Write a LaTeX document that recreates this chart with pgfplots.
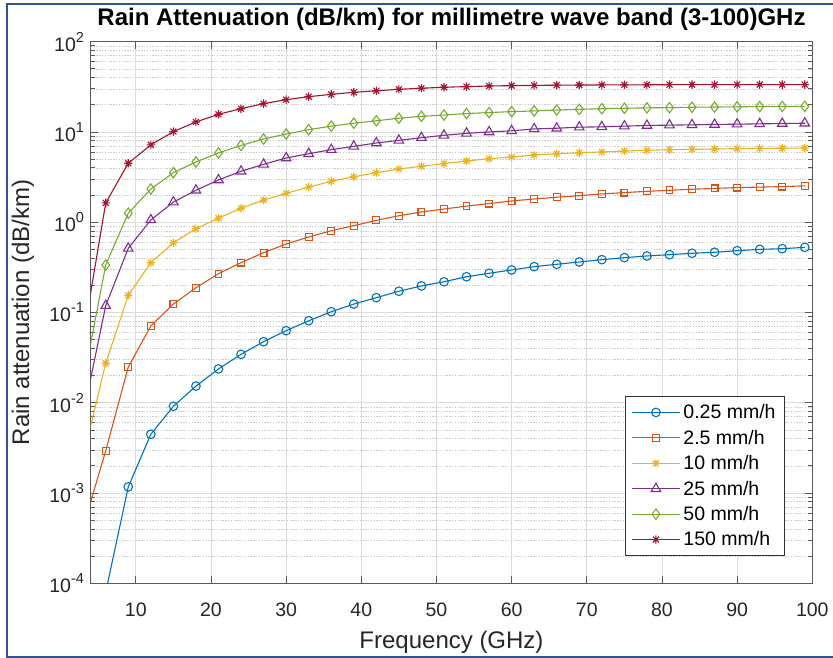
\documentclass[border=0pt]{standalone}
\usepackage{pgfplots}
\usepackage{pgfplotstable}
\pgfplotsset{compat=1.18}
\usepackage{fontspec}
\setmainfont{Liberation Sans}
\definecolor{c1}{RGB}{0,114,189}
\definecolor{c2}{RGB}{217,83,25}
\definecolor{c3}{RGB}{237,177,32}
\definecolor{c4}{RGB}{126,47,142}
\definecolor{c5}{RGB}{119,172,48}
\definecolor{c6}{RGB}{162,20,47}
\definecolor{frameblue}{RGB}{47,84,150}
\pgfdeclareplotmark{mstar}{%
  \pgfpathmoveto{\pgfqpoint{0pt}{\pgfplotmarksize}}\pgfpathlineto{\pgfqpoint{0pt}{-\pgfplotmarksize}}%
  \pgfpathmoveto{\pgfqpoint{\pgfplotmarksize}{0pt}}\pgfpathlineto{\pgfqpoint{-\pgfplotmarksize}{0pt}}%
  \pgfpathmoveto{\pgfqpoint{.7071\pgfplotmarksize}{.7071\pgfplotmarksize}}\pgfpathlineto{\pgfqpoint{-.7071\pgfplotmarksize}{-.7071\pgfplotmarksize}}%
  \pgfpathmoveto{\pgfqpoint{-.7071\pgfplotmarksize}{.7071\pgfplotmarksize}}\pgfpathlineto{\pgfqpoint{.7071\pgfplotmarksize}{-.7071\pgfplotmarksize}}%
  \pgfusepathqstroke}
\newcommand{\tp}[1]{10\raisebox{9pt}{\fontsize{14.5}{15}\selectfont #1}}
\pgfplotstableread{
f    a        b        c       d       e       g
3    3e-6     0.00042  0.0025  0.0074  0.0168  0.053
6    8e-5     0.00294  0.0274  0.119   0.336   1.64
9    0.00117  0.0249   0.155   0.514   1.26    4.5
12   0.00448  0.071    0.356   1.06    2.33    7.2
15   0.00914  0.124    0.593   1.67    3.54    10.1
18   0.0153   0.188    0.848   2.26    4.65    12.9
21   0.0237   0.269    1.11    2.94    5.85    15.7
24   0.0344   0.357    1.43    3.67    7.1     18.1
27   0.0475   0.46     1.76    4.38    8.35    20.6
30   0.0629   0.574    2.09    5.15    9.5     22.8
33   0.081    0.686    2.45    5.74    10.6    24.6
36   0.102    0.805    2.84    6.37    11.6    26.1
39   0.124    0.916    3.19    6.93    12.5    27.5
42   0.146    1.05     3.54    7.55    13.3    28.6
45   0.172    1.18     3.89    8.07    14.2    29.7
48   0.197    1.30     4.17    8.64    14.9    30.5
51   0.219    1.40     4.46    9.18    15.4    31.3
54   0.249    1.51     4.77    9.66    16.0    31.8
57   0.272    1.61     5.06    10.0    16.4    32.3
60   0.296    1.72     5.28    10.3    16.8    32.6
63   0.322    1.81     5.56    10.8    17.1    32.8
66   0.342    1.89     5.74    11.0    17.5    33.0
69   0.363    1.97     5.89    11.3    17.8    33.1
72   0.385    2.06     6.00    11.4    18.1    33.2
75   0.405    2.13     6.15    11.6    18.3    33.3
78   0.423    2.20     6.26    11.8    18.5    33.3
81   0.437    2.26     6.37    11.9    18.6    33.4
84   0.453    2.32     6.42    12.0    18.8    33.4
87   0.465    2.37     6.47    12.1    18.9    33.4
90   0.484    2.42     6.53    12.2    19.0    33.5
93   0.501    2.45     6.58    12.3    19.1    33.5
96   0.509    2.48     6.60    12.4    19.2    33.5
99   0.527    2.53     6.64    12.5    19.2    33.5
}\rain
\begin{document}
\begin{tikzpicture}
\useasboundingbox (0,0) rectangle (833pt,658pt);
\fill[white] (0,0) rectangle (833pt,658pt);
\draw[frameblue, line width=2pt] (900pt,654pt) -- (7.3pt,654pt) -- (7.3pt,0.8pt) -- (900pt,0.8pt);
\begin{axis}[
  at={(90.7pt,74.7pt)}, anchor=south west,
  scale only axis, width=721.6pt, height=541.6pt,
  xmin=4, xmax=100, ymode=log, ymin=1e-4, ymax=1e2,
  xtick={10,20,...,100},
  ytick={1e-4,1e-3,1e-2,1e-1,1,10,100},
  yticklabels={\tp{-4},\tp{-3},\tp{-2},\tp{-1},\tp{0},\tp{1},\tp{2}},
  /pgf/number format/assume math mode=true,
  tick label style={font=\fontsize{19.5}{23}\selectfont, text=black!85},
  xticklabel style={anchor=base, yshift=-32.7pt},
  yticklabel style={anchor=east, xshift=-3.2pt},
  xmajorgrids, ymajorgrids, yminorgrids,
  major grid style={black!14, line width=0.7pt},
  minor grid style={black!20, line width=0.6pt, dash pattern=on 1.4pt off 1.4pt},
  axis line style={black!65, line width=0.8pt},
  every tick/.style={black!65, line width=0.8pt},
  major tick length=7pt, minor tick length=4pt,
  title={Rain Attenuation (dB/km) for millimetre wave band (3-100)GHz},
  title style={at={(axis description cs:0.5,1.0185)}, anchor=base, font=\bfseries\fontsize{24}{28}\selectfont},
  xlabel={Frequency (GHz)},
  xlabel style={at={(axis description cs:0.5,-0.12)}, anchor=base, font=\fontsize{24}{28}\selectfont, text=black!85},
  ylabel={Rain attenuation (dB/km)},
  ylabel style={at={(axis description cs:-0.0855,0.5)}, anchor=base, font=\fontsize{24}{28}\selectfont, text=black!85},
  legend style={at={(axis description cs:1,0)}, anchor=south east, xshift=-27.3pt, yshift=27.6pt,
    font=\fontsize{19.5}{23}\selectfont, draw=black!80, line width=0.8pt, fill=white,
    nodes={inner xsep=3pt, inner ysep=4.9pt}, inner xsep=6pt, inner ysep=3pt},
  legend cell align=left,
  legend image code/.code={\draw[mark repeat=2,mark phase=2,#1] plot coordinates {(0pt,0pt) (24pt,0pt) (48pt,0pt)};},
  every axis plot/.append style={line width=1.1pt},
]
\addplot[c1, mark=o, mark size=4.3pt, mark options={solid}] table[x=f,y=a] {\rain};
\addlegendentry{0.25 mm/h}
\addplot[c2, mark=square, mark size=3.4pt, mark options={solid}] table[x=f,y=b] {\rain};
\addlegendentry{2.5 mm/h}
\addplot[c3, mark=mstar, mark size=4.2pt, mark options={solid}] table[x=f,y=c] {\rain};
\addlegendentry{10 mm/h}
\addplot[c4, mark=triangle, mark size=5.5pt, mark options={solid}] table[x=f,y=d] {\rain};
\addlegendentry{25 mm/h}
\addplot[c5, mark=diamond, mark size=5.2pt, mark options={solid}] table[x=f,y=e] {\rain};
\addlegendentry{50 mm/h}
\addplot[c6, mark=mstar, mark size=4.2pt, mark options={solid}] table[x=f,y=g] {\rain};
\addlegendentry{150 mm/h}
\end{axis}
\end{tikzpicture}
\end{document}
